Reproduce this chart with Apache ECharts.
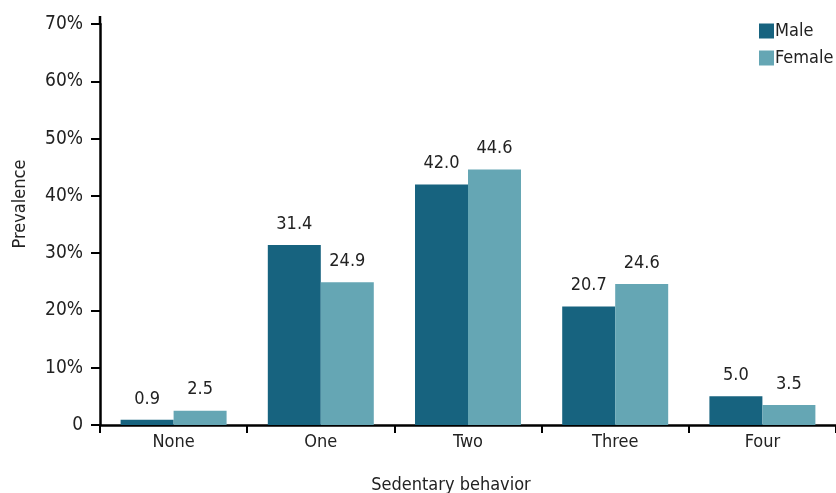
<!DOCTYPE html>
<html>
<head>
<meta charset="utf-8">
<script src="https://cdn.jsdelivr.net/npm/echarts@6/dist/echarts.min.js"></script>
<style>
  html, body { margin: 0; padding: 0; background: #fff; }
  #chart { width: 836px; height: 493px; }
</style>
</head>
<body>
<div id="chart"></div>
<script>
const categories = ['None', 'One', 'Two', 'Three', 'Four']
const maleValues = [0.9, 31.4, 42.0, 20.7, 5.0]
const femaleValues = [2.5, 24.9, 44.6, 24.6, 3.5]
const yTicks = [0, 10, 20, 30, 40, 50, 60, 70]

const FONT = "'DejaVu Sans Condensed', 'Liberation Sans', sans-serif"
const TEXT = '#222'

const chart = echarts.init(document.getElementById('chart'))

const barLabel = {
  show: true,
  position: 'top',
  distance: 12,
  color: TEXT,
  fontFamily: FONT,
  fontSize: 18,
  formatter: p => p.value.toFixed(1)
}

chart.setOption({
  animation: false,
  textStyle: { fontFamily: FONT },
  title: {
    text: 'Sedentary behavior',
    left: 446,
    top: 471,
    textAlign: 'center',
    textStyle: { color: TEXT, fontFamily: FONT, fontSize: 18, fontWeight: 'normal' }
  },
  legend: {
    orient: 'vertical',
    left: 754,
    top: 17,
    itemWidth: 15,
    itemHeight: 15,
    itemGap: 9,
    icon: 'rect',
    textStyle: { color: TEXT, fontFamily: FONT, fontSize: 18, padding: [0, 0, 0, -4] },
    data: ['Male', 'Female']
  },
  grid: { left: 100, top: 24, width: 739, height: 401, containLabel: false },
  xAxis: {
    type: 'category',
    data: categories,
    axisLine: { lineStyle: { color: '#000', width: 2.5 } },
    axisTick: { show: true, length: 8, lineStyle: { color: '#000', width: 2 } },
    axisLabel: { color: TEXT, fontFamily: FONT, fontSize: 18, margin: 8 }
  },
  yAxis: {
    type: 'value',
    min: 0,
    max: 70,
    interval: 10,
    axisLine: { show: true, lineStyle: { color: '#000', width: 2.5 } },
    axisTick: { show: true, length: 9, lineStyle: { color: '#000', width: 2 } },
    splitLine: { show: false },
    axisLabel: {
      color: TEXT,
      fontFamily: FONT,
      fontSize: 19,
      margin: 17,
      formatter: v => yTicks.includes(v) ? (v === 0 ? '0' : v + '%') : ''
    }
  },
  graphic: [
    // the y axis line runs a little past the 70% tick
    { type: 'line', shape: { x1: 100, y1: 16, x2: 100, y2: 25 }, style: { stroke: '#000', lineWidth: 2.5 } },
    {
      type: 'text',
      x: 20,
      y: 204,
      rotation: Math.PI / 2,
      style: {
        text: 'Prevalence',
        fill: TEXT,
        font: "18px 'DejaVu Sans Condensed', sans-serif",
        align: 'center',
        verticalAlign: 'middle'
      }
    }
  ],
  series: [
    {
      name: 'Male',
      type: 'bar',
      data: maleValues,
      barGap: '0%',
      barCategoryGap: '28%',
      itemStyle: { color: '#17637f' },
      label: barLabel
    },
    {
      name: 'Female',
      type: 'bar',
      data: femaleValues,
      itemStyle: { color: '#65a6b4' },
      label: barLabel
    }
  ]
})
</script>
</body>
</html>
